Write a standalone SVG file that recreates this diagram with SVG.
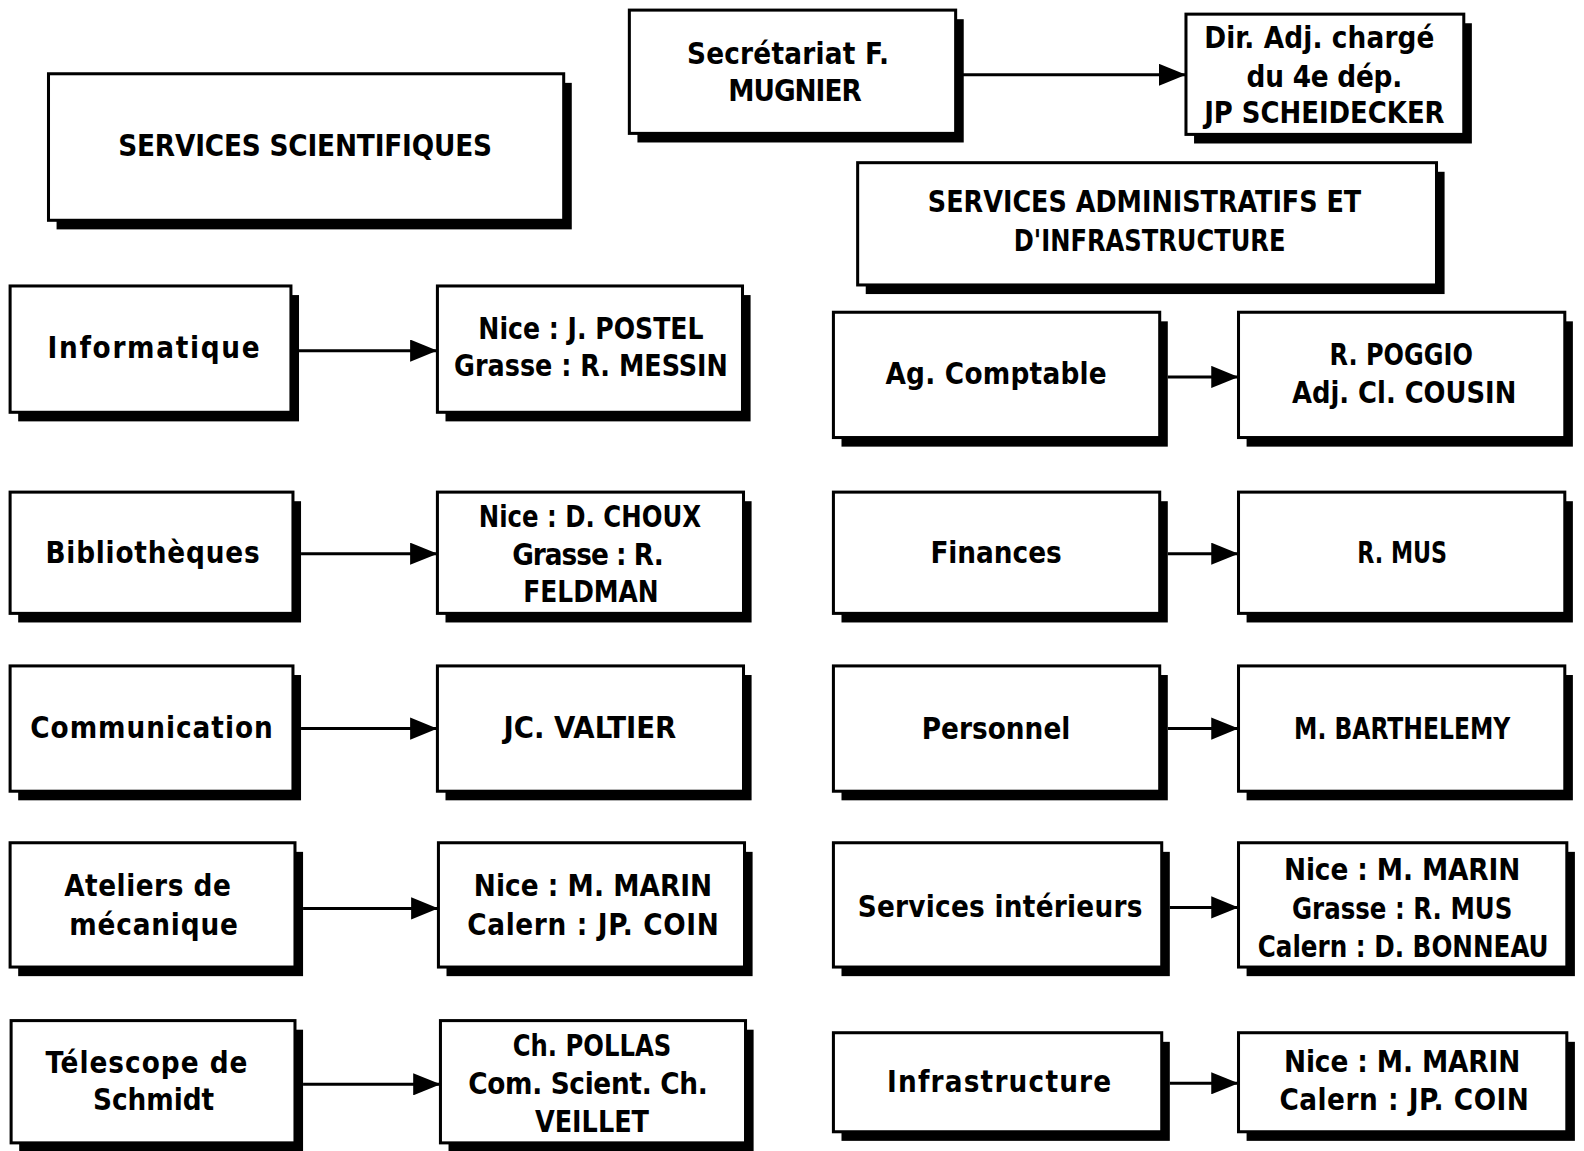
<svg xmlns="http://www.w3.org/2000/svg" width="1584" height="1151" viewBox="0 0 1584 1151">
<style>
.bg{fill:#fff}
.sh{fill:#000}
.box{fill:#fff;stroke:#000;stroke-width:3}
.t{font-family:"DejaVu Sans Condensed","DejaVu Sans","Liberation Sans",sans-serif;font-weight:bold;font-size:29px;text-anchor:middle;fill:#000}
.c{stroke:#000;stroke-width:3;fill:none;marker-end:url(#ah)}
</style>
<defs>
<marker id="ah" markerUnits="userSpaceOnUse" markerWidth="27" markerHeight="22" viewBox="0 0 27 22" refX="27" refY="11" orient="auto">
<path d="M0,0 L27,11 L0,22 Z" fill="#000"/>
</marker>
</defs>
<rect class="bg" x="0" y="0" width="1584" height="1151"/>
<g transform="scale(1.0102 1.0105)">
<g id="connectors">
<line class="c" x1="953" y1="74" x2="1174" y2="74"/>
<line class="c" x1="296" y1="347" x2="433" y2="347"/>
<line class="c" x1="298" y1="548" x2="433" y2="548"/>
<line class="c" x1="298" y1="721" x2="433" y2="721"/>
<line class="c" x1="300" y1="899" x2="434" y2="899"/>
<line class="c" x1="300" y1="1073" x2="436" y2="1073"/>
<line class="c" x1="1156" y1="373" x2="1226" y2="373"/>
<line class="c" x1="1156" y1="548" x2="1226" y2="548"/>
<line class="c" x1="1156" y1="721" x2="1226" y2="721"/>
<line class="c" x1="1158" y1="898" x2="1226" y2="898"/>
<line class="c" x1="1158" y1="1072" x2="1226" y2="1072"/>
</g>

<g id="n-sci">
<rect class="sh" x="56" y="82" width="510" height="145"/>
<rect class="box" x="48" y="73" width="510" height="145"/>
<text class="t" x="302" y="154" textLength="370">SERVICES SCIENTIFIQUES</text>
</g>
<g id="n-sec">
<rect class="sh" x="631" y="19" width="323" height="122"/>
<rect class="box" x="623" y="10" width="323" height="122"/>
<text class="t" x="780" y="63" textLength="200">Secrétariat F.</text>
<text class="t" x="787" y="100" textLength="132">MUGNIER</text>
</g>
<g id="n-dir">
<rect class="sh" x="1182" y="23" width="275" height="119"/>
<rect class="box" x="1174" y="14" width="275" height="119"/>
<text class="t" x="1306" y="48" textLength="228">Dir. Adj. chargé</text>
<text class="t" x="1311" y="86" textLength="154">du 4e dép.</text>
<text class="t" x="1311" y="122" textLength="238" lengthAdjust="spacingAndGlyphs">JP SCHEIDECKER</text>
</g>
<g id="n-adm">
<rect class="sh" x="857" y="170" width="573" height="121"/>
<rect class="box" x="849" y="161" width="573" height="121"/>
<text class="t" x="1133" y="210" textLength="429" lengthAdjust="spacingAndGlyphs">SERVICES ADMINISTRATIFS ET</text>
<text class="t" x="1138" y="248" textLength="269" lengthAdjust="spacingAndGlyphs">D'INFRASTRUCTURE</text>
</g>

<g id="n-info">
<rect class="sh" x="18" y="292" width="278" height="125"/>
<rect class="box" x="10" y="283" width="278" height="125"/>
<text class="t" x="152" y="354" textLength="210">Informatique</text>
</g>
<g id="n-postel">
<rect class="sh" x="441" y="292" width="302" height="125"/>
<rect class="box" x="433" y="283" width="302" height="125"/>
<text class="t" x="585" y="335" textLength="223" lengthAdjust="spacingAndGlyphs">Nice : J. POSTEL</text>
<text class="t" x="585" y="372" textLength="271" lengthAdjust="spacingAndGlyphs">Grasse : R. MESSIN</text>
</g>
<g id="n-agc">
<rect class="sh" x="833" y="318" width="323" height="124"/>
<rect class="box" x="825" y="309" width="323" height="124"/>
<text class="t" x="986" y="380" textLength="219">Ag. Comptable</text>
</g>
<g id="n-poggio">
<rect class="sh" x="1234" y="318" width="323" height="124"/>
<rect class="box" x="1226" y="309" width="323" height="124"/>
<text class="t" x="1387" y="361" textLength="142" lengthAdjust="spacingAndGlyphs">R. POGGIO</text>
<text class="t" x="1390" y="399" textLength="222" lengthAdjust="spacingAndGlyphs">Adj. Cl. COUSIN</text>
</g>

<g id="n-biblio">
<rect class="sh" x="18" y="496" width="280" height="120"/>
<rect class="box" x="10" y="487" width="280" height="120"/>
<text class="t" x="151" y="557" textLength="212">Bibliothèques</text>
</g>
<g id="n-choux">
<rect class="sh" x="441" y="496" width="303" height="120"/>
<rect class="box" x="433" y="487" width="303" height="120"/>
<text class="t" x="584" y="522" textLength="220" lengthAdjust="spacingAndGlyphs">Nice : D. CHOUX</text>
<text class="t" x="582" y="559" textLength="150">Grasse : R.</text>
<text class="t" x="585" y="596" textLength="134" lengthAdjust="spacingAndGlyphs">FELDMAN</text>
</g>
<g id="n-fin">
<rect class="sh" x="833" y="496" width="323" height="120"/>
<rect class="box" x="825" y="487" width="323" height="120"/>
<text class="t" x="986" y="557" textLength="130">Finances</text>
</g>
<g id="n-mus">
<rect class="sh" x="1234" y="496" width="323" height="120"/>
<rect class="box" x="1226" y="487" width="323" height="120"/>
<text class="t" x="1388" y="557" textLength="89" lengthAdjust="spacingAndGlyphs">R. MUS</text>
</g>

<g id="n-comm">
<rect class="sh" x="18" y="668" width="280" height="124"/>
<rect class="box" x="10" y="659" width="280" height="124"/>
<text class="t" x="150" y="730" textLength="240">Communication</text>
</g>
<g id="n-valtier">
<rect class="sh" x="441" y="668" width="303" height="124"/>
<rect class="box" x="433" y="659" width="303" height="124"/>
<text class="t" x="584" y="730" textLength="171" lengthAdjust="spacingAndGlyphs">JC. VALTIER</text>
</g>
<g id="n-pers">
<rect class="sh" x="833" y="668" width="323" height="124"/>
<rect class="box" x="825" y="659" width="323" height="124"/>
<text class="t" x="986" y="731" textLength="147">Personnel</text>
</g>
<g id="n-barth">
<rect class="sh" x="1234" y="668" width="323" height="124"/>
<rect class="box" x="1226" y="659" width="323" height="124"/>
<text class="t" x="1388" y="731" textLength="214" lengthAdjust="spacingAndGlyphs">M. BARTHELEMY</text>
</g>

<g id="n-atel">
<rect class="sh" x="18" y="843" width="282" height="123"/>
<rect class="box" x="10" y="834" width="282" height="123"/>
<text class="t" x="146" y="887" textLength="165">Ateliers de</text>
<text class="t" x="152" y="925" textLength="167">mécanique</text>
</g>
<g id="n-marin1">
<rect class="sh" x="442" y="843" width="303" height="123"/>
<rect class="box" x="434" y="834" width="303" height="123"/>
<text class="t" x="587" y="887" textLength="236">Nice : M. MARIN</text>
<text class="t" x="587" y="925" textLength="249">Calern : JP. COIN</text>
</g>
<g id="n-servint">
<rect class="sh" x="833" y="843" width="325" height="123"/>
<rect class="box" x="825" y="834" width="325" height="123"/>
<text class="t" x="990" y="907" textLength="282">Services intérieurs</text>
</g>
<g id="n-marin2">
<rect class="sh" x="1234" y="843" width="325" height="123"/>
<rect class="box" x="1226" y="834" width="325" height="123"/>
<text class="t" x="1388" y="871" textLength="234">Nice : M. MARIN</text>
<text class="t" x="1388" y="909" textLength="218" lengthAdjust="spacingAndGlyphs">Grasse : R. MUS</text>
<text class="t" x="1389" y="947" textLength="288" lengthAdjust="spacingAndGlyphs">Calern : D. BONNEAU</text>
</g>

<g id="n-tele">
<rect class="sh" x="19" y="1019" width="281" height="121"/>
<rect class="box" x="11" y="1010" width="281" height="121"/>
<text class="t" x="145" y="1062" textLength="200">Télescope de</text>
<text class="t" x="152" y="1098" textLength="120">Schmidt</text>
</g>
<g id="n-pollas">
<rect class="sh" x="444" y="1019" width="302" height="121"/>
<rect class="box" x="436" y="1010" width="302" height="121"/>
<text class="t" x="586" y="1045" textLength="157" lengthAdjust="spacingAndGlyphs">Ch. POLLAS</text>
<text class="t" x="582" y="1083" textLength="237">Com. Scient. Ch.</text>
<text class="t" x="586" y="1120" textLength="113" lengthAdjust="spacingAndGlyphs">VEILLET</text>
</g>
<g id="n-infra">
<rect class="sh" x="833" y="1031" width="325" height="98"/>
<rect class="box" x="825" y="1022" width="325" height="98"/>
<text class="t" x="989" y="1081" textLength="222">Infrastructure</text>
</g>
<g id="n-marin3">
<rect class="sh" x="1234" y="1031" width="325" height="98"/>
<rect class="box" x="1226" y="1022" width="325" height="98"/>
<text class="t" x="1388" y="1061" textLength="234">Nice : M. MARIN</text>
<text class="t" x="1390" y="1098" textLength="247">Calern : JP. COIN</text>
</g>
</g>
</svg>
